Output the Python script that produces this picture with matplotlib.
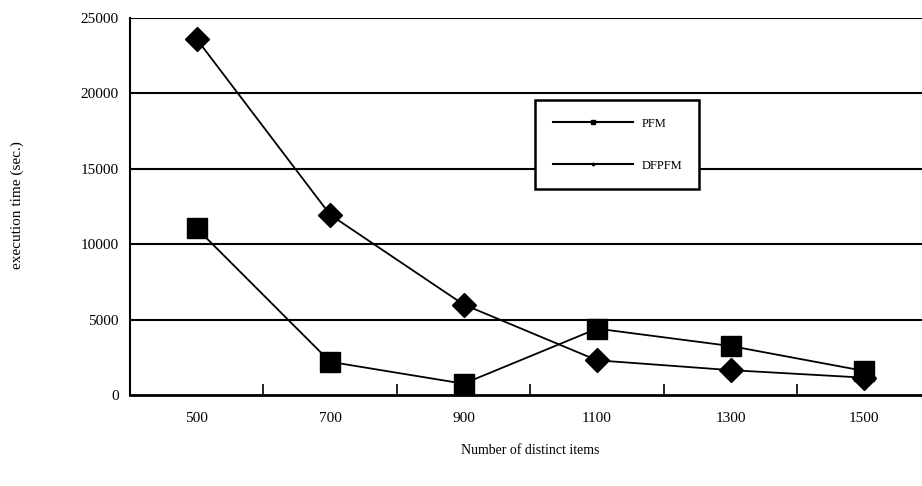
import matplotlib.pyplot as plt
from matplotlib.lines import Line2D

plt.rcParams['font.family'] = ['Liberation Serif', 'DejaVu Serif']

items = ['500', '700', '900', '1100', '1300', '1500']
pfm = [11050, 2200, 750, 4400, 3250, 1600]
dfpfm = [23600, 11950, 6000, 2300, 1650, 1150]
yticks = [0, 5000, 10000, 15000, 20000, 25000]

fig = plt.figure(figsize=(9.22, 4.86), dpi=100)
ax = fig.add_axes([130 / 922, 1 - 395 / 486, 792 / 922, 377 / 486])

x = range(len(items))
ax.plot(x, pfm, color='black', lw=1.3, marker='s', markersize=14.5, zorder=3)
ax.plot(x, dfpfm, color='black', lw=1.3, marker='D', markersize=12, zorder=3)

ax.set_xlim(-0.5, 5.435)
ax.set_ylim(0, 25000)
ax.set_yticks(yticks)
ax.set_yticklabels([str(v) for v in yticks], fontsize=11)
ax.set_xticks(list(x))
ax.set_xticklabels(items, fontsize=11)
ax.tick_params(axis='x', which='major', length=0, pad=12)
ax.tick_params(axis='y', length=0, pad=8)
ax.set_xticks([i + 0.5 for i in range(5)], minor=True)
ax.tick_params(axis='x', which='minor', direction='in', length=8, width=1.2)

for v in yticks[1:]:
    ax.axhline(v, color='black', lw=1.5, zorder=1)

for s in ['top', 'right']:
    ax.spines[s].set_visible(False)
ax.spines['left'].set_linewidth(1.5)
ax.spines['bottom'].set_linewidth(2)

handles = [Line2D([], [], color='black', lw=1.5, marker='s', markersize=3.5),
           Line2D([], [], color='black', lw=1.5, marker='D', markersize=1.5)]
leg = ax.legend(handles, ['PFM', 'DFPFM'], loc='upper left',
                bbox_to_anchor=((535 - 130) / 792, (395 - 100) / 377),
                fontsize=9, frameon=True, fancybox=False, handlelength=6.4,
                labelspacing=2.4, borderpad=1.4, handletextpad=0.7,
                borderaxespad=0)
leg.get_frame().set_edgecolor('black')
leg.get_frame().set_linewidth(1.8)
leg.get_frame().set_alpha(1)

fig.text(17 / 922, 1 - 205 / 486, 'execution time (sec.)', rotation=90,
         ha='center', va='center', fontsize=11)
fig.text(530 / 922, 1 - 450 / 486, 'Number of distinct items',
         ha='center', va='center', fontsize=10)

fig.savefig('out.png', dpi=100)
